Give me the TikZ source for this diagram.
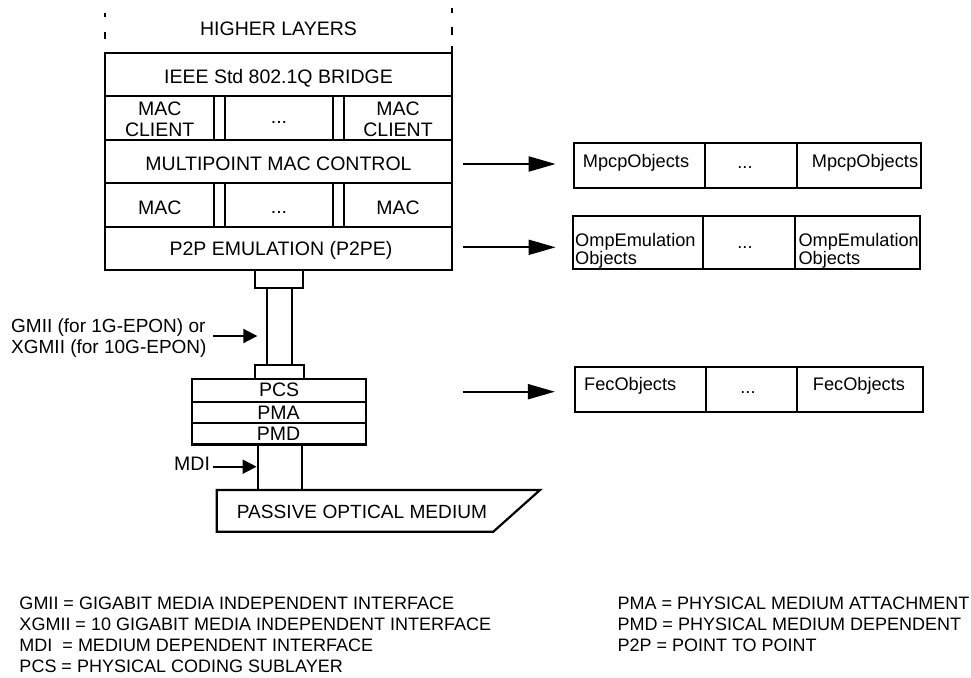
\documentclass[tikz,border=0pt]{standalone}
\usepackage{fontspec}
\setmainfont{Liberation Sans}
\usetikzlibrary{arrows.meta}
\begin{document}
\begin{tikzpicture}[x=1pt,y=-1pt,
  lw/.style={line width=2.2pt},
  cell/.style={draw,lw,inner sep=0pt,anchor=center},
  big/.style={inner sep=0pt,font=\fontsize{19.5}{21}\selectfont},
  tab/.style={inner sep=0pt,font=\fontsize{18.2}{17.7}\selectfont},
  foot/.style={inner sep=0pt,anchor=base west,font=\fontsize{18}{21}\selectfont},
  sarr/.style={line width=2pt,-{Triangle[length=14pt,width=14pt]}},
  barr/.style={line width=2pt,-{Triangle[length=27pt,width=15pt]}}
]
\useasboundingbox[fill=white] (0,0) rectangle (971,677);

% dashed sides of higher layers
\draw[lw] (105,12.7) -- (105,16.7) (105,31.7) -- (105,39.3);
\draw[lw] (452,8.3) -- (452,12.7) (452,26.7) -- (452,35) (452,46) -- (452,51.7);
\node[big,anchor=base] (hl) at (278.5,36) {HIGHER LAYERS};

% main stack
\node[cell,minimum width=347pt,minimum height=43pt] (bridge) at (278.5,74.2) {};
\node[cell,minimum width=109.3pt,minimum height=44.3pt] (mc1) at (159.65,117.85) {};
\node[cell,minimum width=108.3pt,minimum height=44.3pt] (mc2) at (279.15,117.85) {};
\node[cell,minimum width=108pt,minimum height=44.3pt] (mc3) at (398,117.85) {};
\node[cell,minimum width=347pt,minimum height=43pt] (mpmc) at (278.5,161.5) {};
\node[cell,minimum width=109.3pt,minimum height=43.7pt] (mac1) at (159.65,204.85) {};
\node[cell,minimum width=108.3pt,minimum height=43.7pt] (mac2) at (279.15,204.85) {};
\node[cell,minimum width=108pt,minimum height=43.7pt] (mac3) at (398,204.85) {};
\node[cell,minimum width=347pt,minimum height=43.3pt] (p2pe) at (278.5,248.35) {};

\node[big,anchor=base] (tbridge) at (278.5,83.3) {IEEE Std 802.1Q BRIDGE};
\node[big,anchor=north,align=center] (tmc1) at (159.7,101.7) {MAC\\CLIENT};
\node[big,anchor=base] (tmc2) at (279,123) {...};
\node[big,anchor=north,align=center] (tmc3) at (398,101.7) {MAC\\CLIENT};
\node[big,anchor=base] (tmpmc) at (278.5,170.7) {MULTIPOINT MAC CONTROL};
\node[big,anchor=base] (tmac1) at (159.7,214) {MAC};
\node[big,anchor=base] (tmac2) at (279,213) {...};
\node[big,anchor=base] (tmac3) at (398,214) {MAC};
\node[big,anchor=base] (tp2pe) at (281,255.3) {P2P EMULATION (P2PE)};

% interface connector and PHY
\node[cell,minimum width=47.7pt,minimum height=18.3pt] (cu) at (278.85,279.15) {};
\node[cell,minimum width=24.7pt,minimum height=76.7pt] (shaft) at (279.65,326.65) {};
\node[cell,minimum width=48.7pt,minimum height=14.3pt] (cl) at (279.35,372.15) {};
\node[cell,minimum width=174pt,minimum height=22.4pt] (pcs) at (278.7,390.5) {};
\node[cell,minimum width=174pt,minimum height=21.6pt] (pma) at (278.7,412.5) {};
\node[cell,minimum width=174pt,minimum height=21.2pt] (pmd) at (278.7,433.9) {};
\node[cell,minimum width=44.3pt,minimum height=45.5pt] (mdis) at (279.85,467.25) {};
\node[big,anchor=base] (tpcs) at (279.2,396.7) {PCS};
\node[big,anchor=base] (tpma) at (278.6,419.3) {PMA};
\node[big,anchor=base] (tpmd) at (278.6,440.3) {PMD};

% passive optical medium
\draw[lw,line join=miter] (216.7,490) -- (540,490) -- (493.3,531.7) -- (216.7,531.7) -- cycle;
\node[big,anchor=base west,font=\fontsize{19.1}{21}\selectfont] (pom) at (236.7,518.3) {PASSIVE OPTICAL MEDIUM};

% left labels and arrows
\node[big,anchor=north west,align=left,font=\fontsize{19}{20.7}\selectfont] (gmii) at (11,318.5) {GMII (for 1G-EPON) or\\XGMII (for 10G-EPON)};
\coordinate (gmiiA) at (213,336);
\coordinate (gmiiB) at (257.3,336);
\draw[sarr] (gmiiA) -- (gmiiB);
\node[big,anchor=base west] (mdi) at (174,470) {MDI};
\coordinate (mdiA) at (213,466.7);
\draw[sarr] (mdiA) -- (mdiA -| mdis.west);

% right tables
\node[cell,minimum width=131pt,minimum height=45pt] (m1) at (639.5,165.8) {};
\node[cell,minimum width=91.7pt,minimum height=45pt] (m2) at (750.85,165.8) {};
\node[cell,minimum width=124.3pt,minimum height=45pt] (m3) at (858.85,165.8) {};
\node[tab,anchor=base west] (tm1) at (582.7,167.3) {MpcpObjects};
\node[tab,anchor=base] (tm2) at (745,168.3) {...};
\node[tab,anchor=base west] (tm3) at (811.7,167.3) {MpcpObjects};

\node[cell,minimum width=130pt,minimum height=53.3pt] (o1) at (637.7,242.65) {};
\node[cell,minimum width=92.3pt,minimum height=53.3pt] (o2) at (748.85,242.65) {};
\node[cell,minimum width=125pt,minimum height=53.3pt] (o3) at (857.5,242.65) {};
\node[tab,anchor=north west,align=left] (to1) at (575,233.5) {OmpEmulation\\Objects};
\node[tab,anchor=base] (to2) at (745,248) {...};
\node[tab,anchor=north west,align=left] (to3) at (798.3,233.5) {OmpEmulation\\Objects};

\node[cell,minimum width=131pt,minimum height=44.4pt] (f1) at (640.5,389.5) {};
\node[cell,minimum width=90.7pt,minimum height=44.4pt] (f2) at (751.35,389.5) {};
\node[cell,minimum width=126pt,minimum height=44.4pt] (f3) at (859.7,389.5) {};
\node[tab,anchor=base west] (tf1) at (584,390.7) {FecObjects};
\node[tab,anchor=base] (tf2) at (748,393) {...};
\node[tab,anchor=base west] (tf3) at (812.7,390.7) {FecObjects};

% right arrows
\coordinate (mA) at (463.3,164);
\coordinate (oA) at (463.3,247.3);
\coordinate (fA) at (462.7,391.7);
\draw[barr] (mA) -- ([xshift=-17.3pt]mA -| m1.west);
\draw[barr] (oA) -- ([xshift=-16pt]oA -| o1.west);
\draw[barr] (fA) -- ([xshift=-19pt]fA -| f1.west);

% footnotes
\node[foot] (n1) at (19.3,609.3) {GMII = GIGABIT MEDIA INDEPENDENT INTERFACE};
\node[foot] (n2) at (19.3,630.3) {XGMII = 10 GIGABIT MEDIA INDEPENDENT INTERFACE};
\node[foot] (n3) at (19.3,651.3) {MDI\ \ = MEDIUM DEPENDENT INTERFACE};
\node[foot] (n4) at (19.3,672.3) {PCS = PHYSICAL CODING SUBLAYER};
\node[foot] (n5) at (617.3,609.3) {PMA = PHYSICAL MEDIUM ATTACHMENT};
\node[foot] (n6) at (617.3,630.3) {PMD = PHYSICAL MEDIUM DEPENDENT};
\node[foot] (n7) at (617.3,651.3) {P2P = POINT TO POINT};
\end{tikzpicture}
\end{document}
